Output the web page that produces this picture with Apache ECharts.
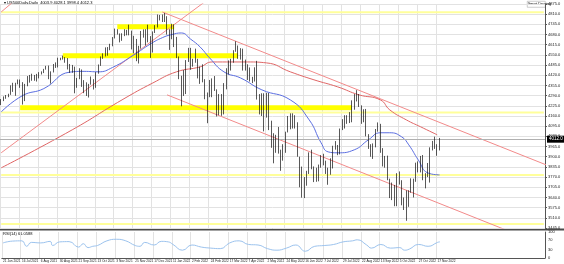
<!DOCTYPE html>
<html><head><meta charset="utf-8">
<script src="https://cdn.jsdelivr.net/npm/echarts@6/dist/echarts.min.js"></script>
<style>html,body{margin:0;padding:0;background:#fff}#c{width:564px;height:264px}</style>
</head><body><div id="c"></div><script>
const tickLabels = ["21 Jun 2021","16 Jul 2021","6 Aug 2021","30 Aug 2021","21 Sep 2021","13 Oct 2021","3 Nov 2021","25 Nov 2021","17 Dec 2021","11 Jan 2022","2 Feb 2022","24 Feb 2022","17 Mar 2022","7 Apr 2022","2 May 2022","24 May 2022","16 Jun 2022","7 Jul 2022","29 Jul 2022","22 Aug 2022","13 Sep 2022","5 Oct 2022","27 Oct 2022","17 Nov 2022"];
const opens = [4240,4262,4280,4291,4297,4352,4358,4369,4369,4360,4258,4359,4411,4401,4419,4387,4402,4437,4436,4460,4479,4400,4441,4486,4470,4529,4524,4535,4514,4458,4443,4473,4358,4395,4455,4352,4307,4300,4363,4391,4350,4438,4486,4536,4544,4574,4596,4613,4660,4697,4685,4649,4682,4700,4704,4682,4595,4567,4577,4591,4701,4712,4635,4668,4568,4697,4726,4786,4793,4766,4793,4696,4670,4726,4663,4532,4398,4357,4326,4516,4589,4500,4521,4504,4418,4472,4380,4304,4288,4374,4387,4329,4171,4260,4173,4358,4463,4512,4520,4575,4602,4545,4583,4481,4488,4397,4392,4391,4459,4271,4175,4287,4155,4300,4123,4001,3930,4008,3923,3901,3941,4057,4132,4176,4121,4116,3900,3735,3667,3765,3796,3900,3821,3785,3825,3845,3903,3854,3818,3790,3830,3959,3961,3921,4072,4119,4155,4145,4122,4207,4297,4274,4228,4128,4200,4031,3955,3924,3980,4067,4110,3946,3873,3856,3758,3655,3719,3586,3791,3745,3612,3577,3583,3677,3695,3752,3859,3807,3872,3759,3771,3828,3956,3957,3959,3965];
const highs = [4268,4285,4294,4302,4356,4372,4372,4393,4393,4376,4365,4415,4422,4430,4422,4429,4440,4445,4461,4480,4482,4445,4492,4502,4532,4532,4545,4536,4530,4492,4486,4475,4403,4465,4457,4389,4375,4365,4412,4395,4440,4489,4540,4560,4598,4600,4621,4664,4718,4714,4687,4688,4714,4710,4743,4705,4672,4652,4608,4703,4713,4714,4743,4670,4700,4740,4808,4805,4808,4818,4797,4714,4749,4745,4665,4540,4417,4453,4517,4595,4595,4525,4590,4525,4475,4490,4395,4310,4390,4400,4415,4330,4300,4300,4370,4465,4515,4525,4580,4637,4610,4593,4590,4520,4490,4470,4410,4471,4512,4300,4305,4305,4308,4307,4130,4050,4040,4090,3945,3980,4060,4160,4177,4177,4165,4120,3900,3837,3770,3810,3928,3945,3838,3830,3850,3910,3919,3875,3830,3890,3970,4000,3975,4080,4140,4165,4165,4185,4260,4300,4325,4300,4228,4203,4205,4044,3980,3985,4077,4119,4110,3955,3905,3907,3760,3735,3720,3795,3806,3750,3640,3685,3686,3762,3760,3862,3870,3905,3911,3795,3860,3960,4001,4028,3980,4020];
const lows = [4230,4255,4270,4280,4295,4314,4289,4362,4340,4233,4255,4350,4373,4385,4385,4380,4400,4425,4434,4456,4395,4367,4438,4467,4470,4516,4520,4500,4457,4435,4436,4305,4340,4395,4346,4306,4288,4278,4360,4329,4340,4430,4480,4525,4540,4545,4580,4605,4655,4680,4630,4640,4670,4675,4675,4585,4560,4510,4495,4590,4660,4610,4630,4531,4565,4690,4725,4770,4760,4760,4680,4582,4650,4600,4530,4395,4222,4288,4300,4505,4455,4475,4500,4400,4365,4375,4267,4114,4280,4280,4320,4157,4165,4161,4170,4330,4425,4450,4500,4570,4525,4520,4450,4450,4390,4380,4370,4380,4265,4170,4160,4062,4150,4070,3957,3858,3925,3920,3810,3875,3925,4055,4075,4080,4080,3900,3705,3639,3636,3715,3790,3820,3738,3740,3743,3830,3845,3790,3721,3785,3825,3945,3910,3915,4070,4080,4110,4115,4120,4200,4253,4218,4110,4120,4030,3950,3900,3886,3960,4060,3925,3838,3830,3750,3636,3623,3584,3584,3722,3590,3560,3491,3580,3670,3640,3740,3800,3800,3750,3698,3770,3735,3940,3950,3906,3940];
const closes = [4262,4280,4291,4297,4352,4358,4369,4369,4360,4258,4359,4411,4401,4419,4387,4402,4437,4436,4460,4479,4400,4441,4486,4470,4529,4524,4535,4514,4458,4443,4473,4358,4395,4455,4352,4307,4300,4363,4391,4350,4438,4486,4536,4544,4574,4596,4613,4660,4697,4685,4649,4682,4700,4704,4682,4595,4567,4577,4591,4701,4712,4635,4668,4568,4697,4726,4786,4793,4766,4793,4696,4670,4726,4663,4532,4398,4357,4326,4516,4589,4500,4521,4504,4418,4472,4380,4304,4288,4374,4387,4329,4171,4260,4173,4358,4463,4512,4520,4575,4602,4545,4583,4481,4488,4397,4392,4391,4459,4271,4175,4287,4155,4300,4123,4001,3930,4008,3923,3901,3941,4057,4132,4176,4121,4116,3900,3735,3667,3765,3796,3900,3821,3785,3825,3845,3903,3854,3818,3790,3830,3959,3961,3921,4072,4119,4155,4145,4122,4207,4297,4274,4228,4128,4200,4031,3955,3924,3980,4067,4110,3946,3873,3856,3758,3655,3719,3586,3791,3745,3612,3577,3583,3677,3695,3752,3859,3807,3872,3759,3771,3828,3956,3957,3959,3965,4012];
// moving averages: [bar index, price]
const blueMA = [[0,4186],[9,4290],[18,4335],[29,4440],[35,4445],[41,4442],[47,4470],[56,4550],[63,4620],[68,4660],[72,4680],[76,4690],[80,4650],[84,4600],[88,4530],[94,4442],[101,4403],[110,4327],[122,4263],[130,4135],[135,3989],[138,3931],[142,3925],[149,3944],[155,4008],[160,4053],[164,4053],[169,4027],[172,3976],[176,3880],[180,3797],[185,3784]];
const redMA = [[0,3829],[30,4072],[51,4263],[64,4371],[74,4442],[84,4474],[89,4505],[104,4505],[112,4499],[122,4442],[132,4391],[142,4346],[151,4295],[160,4263],[164,4199],[171,4135],[177,4091],[184,4040]];
const rsiValues = [[0,58],[4,65],[8,66],[10,45],[12,60],[16,58],[20,64],[21,48],[24,62],[28,63],[32,42],[34,55],[36,40],[38,45],[40,48],[44,66],[48,72],[52,66],[56,48],[58,45],[60,60],[64,50],[67,64],[70,62],[72,52],[76,30],[80,50],[84,42],[88,38],[92,36],[96,58],[100,66],[104,52],[108,50],[112,36],[116,30],[120,38],[124,50],[128,26],[132,45],[136,48],[140,52],[144,62],[148,66],[150,70],[154,50],[156,38],[160,52],[164,38],[168,40],[170,30],[172,34],[176,52],[180,45],[184,60],[185,62]];
// drawn objects: [start bar, start price, end bar, end price]
const trendLines = [[68,4824,230,3848],[70,4295,230,3330],[0,3925,87,4901],[0,4824,6,4901]];
const zoneLines = [[49,73,4729],[26,100,4544],[8,148,4212]];
const levelLines = [4822,4182,3784,3470];
const totalBars = 230;

const cats = Array.from({length: totalBars}, (_, i) => String(i));
const candleData = opens.map((o, i) => [o, closes[i], lows[i], highs[i]]);
const isTick = i => i % 8 === 0 && i / 8 < tickLabels.length;
const grid0 = {left: 0, right: 19, top: 4, height: 224};
const grid1 = {left: 0, right: 19, top: 232, height: 26};
const series = [];
levelLines.forEach(p => series.push({type: 'line', xAxisIndex: 0, yAxisIndex: 0, data: [[0, p], [totalBars - 1, p]], symbol: 'none', lineStyle: {color: '#ffff9a', width: 2}, silent: true, z: 1}));
zoneLines.forEach(z => series.push({type: 'line', xAxisIndex: 0, yAxisIndex: 0, data: [[z[0], z[2]], [z[1], z[2]]], symbol: 'none', lineStyle: {color: '#ffff00', width: 5}, silent: true, z: 2}));
trendLines.forEach(t => series.push({type: 'line', xAxisIndex: 0, yAxisIndex: 0, data: [[t[0], t[1]], [t[2], t[3]]], symbol: 'none', lineStyle: {color: '#f28a8a', width: 1}, silent: true, z: 3}));
series.push({type: 'line', xAxisIndex: 0, yAxisIndex: 0, data: redMA, smooth: true, symbol: 'none', lineStyle: {color: '#e06666', width: 1}, z: 4});
series.push({type: 'line', xAxisIndex: 0, yAxisIndex: 0, data: blueMA, smooth: true, symbol: 'none', lineStyle: {color: '#5b6ee1', width: 1}, z: 4});
series.push({type: 'candlestick', xAxisIndex: 0, yAxisIndex: 0, data: candleData, barWidth: 1.2,
  itemStyle: {color: '#ffffff', color0: '#000000', borderColor: '#111111', borderColor0: '#111111', borderWidth: 0.7}, z: 5,
  markLine: {symbol: 'none', silent: true, data: [{yAxis: closes[closes.length - 1]}],
    lineStyle: {color: '#b0b0b0', type: 'solid', width: 1},
    label: {position: 'end', formatter: p => p.value.toFixed(1), backgroundColor: '#000', color: '#fff', fontSize: 4.5, padding: [1, 2], distance: 2}}});
series.push({type: 'line', xAxisIndex: 1, yAxisIndex: 1, data: rsiValues, smooth: true, symbol: 'none', lineStyle: {color: '#9cc3ee', width: 1}});

const chart = echarts.init(document.getElementById('c'), null, {renderer: 'canvas'});
chart.setOption({
  animation: false, backgroundColor: '#ffffff',
  grid: [grid0, grid1],
  xAxis: [
    {type: 'category', gridIndex: 0, data: cats, boundaryGap: true, axisLine: {show: false}, axisTick: {show: false}, axisLabel: {show: false},
      splitLine: {show: true, interval: (i) => isTick(i), lineStyle: {color: '#e2e2e2', width: 1}}},
    {type: 'category', gridIndex: 1, position: 'bottom', data: cats, boundaryGap: true, axisLine: {show: true, lineStyle: {color: '#555'}}, axisTick: {show: false},
      axisLabel: {show: true, showMinLabel: true, showMaxLabel: true, interval: (i) => isTick(i), formatter: (v, i) => tickLabels[i / 8] || '',
        fontSize: 3.2, color: '#222', align: 'left', margin: 2, fontFamily: 'Liberation Sans'},
      splitLine: {show: true, interval: (i) => isTick(i), lineStyle: {color: '#e2e2e2', width: 1}}}
  ],
  yAxis: [
    {type: 'value', gridIndex: 0, position: 'right', min: 3445, max: 4875, interval: 65, axisLine: {show: true, onZero: false, lineStyle: {color: '#555'}}, axisTick: {show: true, length: 2},
      axisLabel: {fontSize: 4, color: '#222', margin: 3, formatter: v => v.toFixed(1), fontFamily: 'Liberation Sans'},
      splitLine: {show: true, lineStyle: {color: '#e2e2e2', width: 1}}},
    {type: 'value', gridIndex: 1, position: 'right', min: 0, max: 100, interval: 10, axisLine: {show: true, lineStyle: {color: '#555'}}, axisTick: {show: false},
      axisLabel: {fontSize: 4, color: '#222', margin: 3, fontFamily: 'Liberation Sans', formatter: v => (v === 70 || v === 30 || v === 0 || v === 100) ? String(v) : ''},
      splitLine: {show: false}}
  ],
  graphic: [
    {type: 'rect', left: 0, top: 228.5, shape: {width: 564, height: 2}, style: {fill: '#4a4a4a'}, silent: true},
    {type: 'text', left: 4, top: 1, style: {text: '▾ US500Daily,Daily  4003.9 4028.1 3998.4 4012.3', fontSize: 4, fill: '#000', fontFamily: 'Liberation Sans'}},
    {type: 'text', left: 3, top: 232, style: {text: 'RSI(14) 61.0588', fontSize: 4, fill: '#000', fontFamily: 'Liberation Sans'}},
    {type: 'rect', left: 527, top: 1, shape: {width: 18, height: 6}, style: {fill: '#ffffff', stroke: '#999', lineWidth: 0.5}},
    {type: 'text', left: 528, top: 2, style: {text: 'Smart Drawing', fontSize: 3.5, fill: '#000', fontFamily: 'Liberation Sans'}}
  ],
  series: series
});
</script></body></html>
